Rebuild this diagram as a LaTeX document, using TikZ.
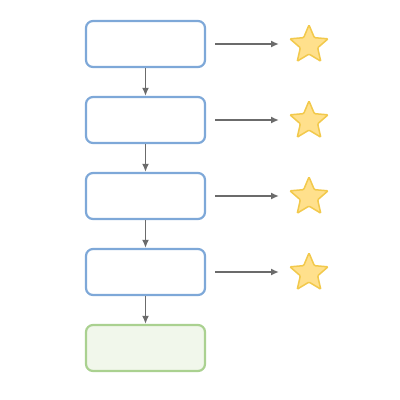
\documentclass[tikz,border=0pt]{standalone}
\usetikzlibrary{shapes.geometric}
\definecolor{boxblue}{HTML}{7EA8D8}
\definecolor{boxgreen}{HTML}{AAD190}
\definecolor{fillgreen}{HTML}{F1F7EB}
\definecolor{starfill}{HTML}{FFE08C}
\definecolor{starline}{HTML}{F2C94C}
\definecolor{arrowgray}{HTML}{6B6B6B}
\tikzset{
  stage/.style={draw=boxblue,line width=2.2pt,rounded corners=7pt,minimum width=119pt,minimum height=46pt,inner sep=0pt},
  final/.style={stage,draw=boxgreen,fill=fillgreen},
  reward/.style={star,star points=5,star point ratio=2.2,draw=starline,fill=starfill,line width=1.5pt,minimum size=40pt,inner sep=0pt,rounded corners=1pt},
  flow/.style={-{Latex[length=8pt,width=7pt]},draw=arrowgray,line width=1.8pt}
}
\usetikzlibrary{arrows.meta}
\begin{document}
\begin{tikzpicture}[>=latex,x=1pt,y=-1pt]
\useasboundingbox (0,0) rectangle (400,400);
\foreach \i/\y in {1/44,2/120,3/196,4/272}
{
    \node[stage] (s\i) at (145.5,\y) {};
    \node[reward] (r\i) at (309,\y+1) {};
    \coordinate (e\i) at (279,\y);
    \draw[flow] (s\i.east)++(9,0) -- (e\i);
}
\node[final] (s5) at (145.5,348) {};
\foreach \i/\j in {1/2,2/3,3/4,4/5}
{
    \draw[flow] (s\i) -- (s\j);
}
\end{tikzpicture}
\end{document}
